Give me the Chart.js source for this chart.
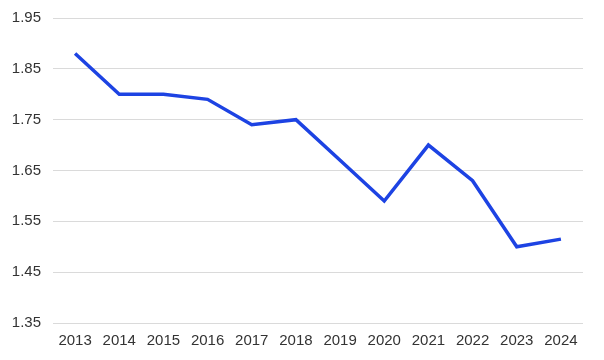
<!DOCTYPE html>
<html>
<head>
<meta charset="utf-8">
<script src="https://cdn.jsdelivr.net/npm/chart.js@4/dist/chart.umd.min.js"></script>
<style>
html,body{margin:0;padding:0;background:#fff;}
#wrap{width:604px;height:360px;position:relative;}
</style>
</head>
<body>
<div id="wrap"><canvas id="c" width="604" height="360"></canvas></div>
<script>
const years = ["2013","2014","2015","2016","2017","2018","2019","2020","2021","2022","2023","2024"];
const values = [1.88, 1.80, 1.80, 1.79, 1.74, 1.75, 1.67, 1.59, 1.70, 1.63, 1.50, 1.515];
const yTicks = [1.35, 1.45, 1.55, 1.65, 1.75, 1.85, 1.95];

new Chart(document.getElementById('c'), {
  type: 'line',
  data: {
    labels: years,
    datasets: [{
      data: values,
      borderColor: '#1d43e3',
      borderWidth: 3.5,
      pointRadius: 0,
      tension: 0,
      fill: false
    }]
  },
  options: {
    responsive: false,
    animation: false,
    plugins: { legend: { display: false }, tooltip: { enabled: false } },
    layout: { padding: { left: 0, right: 21, top: 18, bottom: 1 } },
    scales: {
      x: {
        offset: true,
        grid: { display: false, drawTicks: false },
        border: { display: false },
        ticks: { color: '#333', font: { family: 'Liberation Sans, Arial', size: 15 }, padding: 9, maxRotation: 0, autoSkip: false }
      },
      y: {
        min: 1.35,
        max: 1.95,
        afterBuildTicks: (axis) => { axis.ticks = yTicks.map(v => ({ value: v })); },
        afterFit: (axis) => { axis.width = 53; axis.paddingTop = 0; axis.paddingBottom = 0; },
        grid: { color: '#dadada', lineWidth: 1, drawTicks: false },
        border: { display: false },
        ticks: {
          color: '#333',
          font: { family: 'Liberation Sans, Arial', size: 15 },
          padding: 12,
          callback: (v) => Number(v).toFixed(2)
        }
      }
    }
  }
});
</script>
</body>
</html>
